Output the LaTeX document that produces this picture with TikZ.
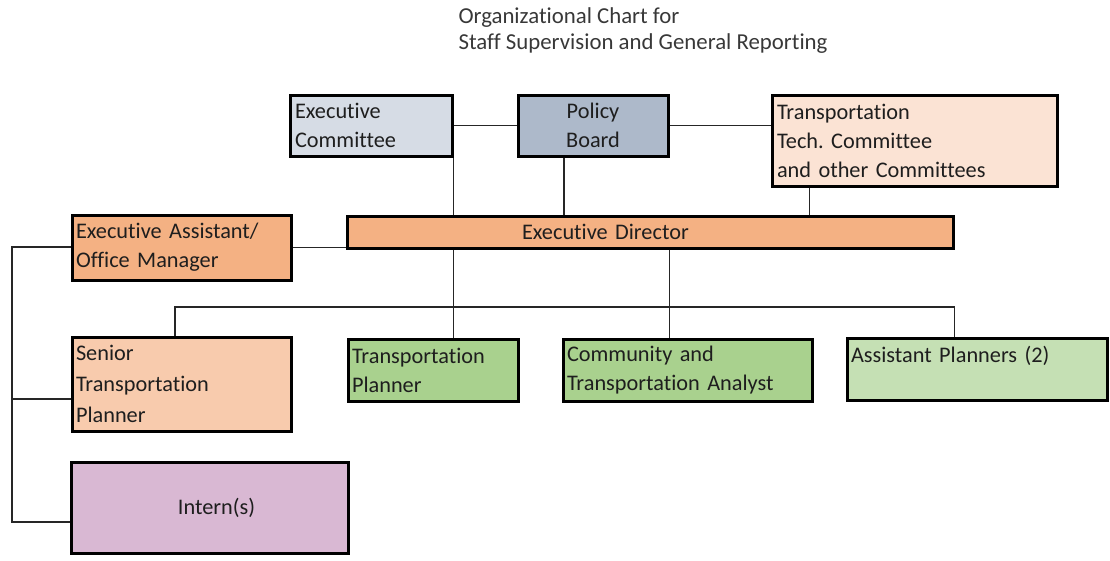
\documentclass[tikz,border=0pt]{standalone}
\usepackage{fontspec}
\setmainfont{Carlito}[Ligatures=NoCommon]
\usepackage{tikz}
\frenchspacing

\definecolor{ecblue}{HTML}{D6DCE5}
\definecolor{pbblue}{HTML}{ADB9CA}
\definecolor{ttpeach}{HTML}{FBE3D4}
\definecolor{edorange}{HTML}{F4B183}
\definecolor{stpeach}{HTML}{F8CBAD}
\definecolor{tpgreen}{HTML}{A9D18E}
\definecolor{apgreen}{HTML}{C5E0B4}
\definecolor{inpink}{HTML}{D9B8D3}
\definecolor{txtgray}{HTML}{1E1E1E}

\tikzset{
  posbox/.style={draw=black, line width=3pt, inner sep=0pt, text=txtgray,
    font=\fontsize{22.3}{29}\selectfont},
  lbox/.style={posbox, align=left},
  link/.style={draw=black!85, line width=1.4pt}
}

\begin{document}
\begin{tikzpicture}[x=1pt,y=-1pt]
\useasboundingbox (0,0) rectangle (1110,560);

% title
\node[anchor=west, text=black!78, font=\fontsize{22.8}{25.5}\selectfont, align=left] (title) at (455,30.5)
  {Organizational Chart for\\Staff Supervision and General Reporting};

% top row
\node[lbox, fill=ecblue, minimum width=162pt, minimum height=61pt, text width=152pt] (ec) at (371,125.5)
  {Executive\\Committee};
\node[posbox, fill=pbblue, minimum width=150pt, minimum height=61pt, align=center] (pb) at (593,125.5)
  {Policy\\Board};
\node[lbox, fill=ttpeach, minimum width=285pt, minimum height=91pt, text width=275pt] (tt) at (914.5,140.5)
  {Transportation\\Tech. Committee\\and other Committees};

% director row
\node[lbox, fill=edorange, minimum width=606pt, minimum height=32pt, text width=596pt] (ed) at (650,232)
  {\hspace*{170pt}Executive Director};
\node[lbox, fill=edorange, minimum width=219pt, minimum height=65pt, text width=211pt] (ea) at (181.5,247.5)
  {Executive Assistant/\\Office Manager};

% staff row
\node[lbox, fill=stpeach, minimum width=219pt, minimum height=94pt, text width=211pt,
  font=\fontsize{22.3}{31}\selectfont] (st) at (181.5,384)
  {Senior\\Transportation\\Planner};
\node[lbox, fill=tpgreen, minimum width=170pt, minimum height=62pt, text width=162pt] (tp) at (433,370)
  {Transportation\\Planner};
\node[lbox, fill=tpgreen, minimum width=249pt, minimum height=62pt, text width=241pt] (ca) at (687.5,370)
  {Community and\\Transportation Analyst};
\node[lbox, fill=apgreen, minimum width=260pt, minimum height=62pt, text width=252pt] (ap) at (977,369)
  {Assistant Planners (2)\\\mbox{}};
\node[posbox, fill=inpink, minimum width=277pt, minimum height=91pt] (in) at (209.5,507.5)
  {\hspace*{14pt}Intern(s)};

% free ends of the lines
\coordinate (bus) at (12,247);
\coordinate (branch) at (175,307);

% board level
\draw[link] (ec.east) -- (pb.west);
\draw[link] (pb.east) -- (pb.east -| tt.west);
\draw[link] (ec.south east) -- (ec.south east |- ed.north);
\draw[link] ([xshift=-29pt]pb.south) -- ([xshift=-29pt]pb.south |- ed.north);
\draw[link] ([xshift=39pt]tt.south west) -- ([xshift=39pt]tt.south west |- ed.north);

% director to staff
\draw[link] (ea.east) -- (ea.east -| ed.west);
\draw[link] (ed.south -| ec.east) -- (tp.north -| ec.east);
\draw[link] ([xshift=-18pt]ca.north |- ed.south) -- ([xshift=-18pt]ca.north);
\draw[link] (st.north -| branch) -- (branch) -- (branch -| ed.east) -- (ap.north -| ed.east);

% assistant side
\draw[link] (ea.west |- bus) -- (bus) -- ([yshift=-14.5pt]bus |- in.west) -- ([yshift=-14.5pt]in.west);
\draw[link] ([yshift=-15pt]bus |- st.west) -- ([yshift=-15pt]st.west);
\end{tikzpicture}
\end{document}
